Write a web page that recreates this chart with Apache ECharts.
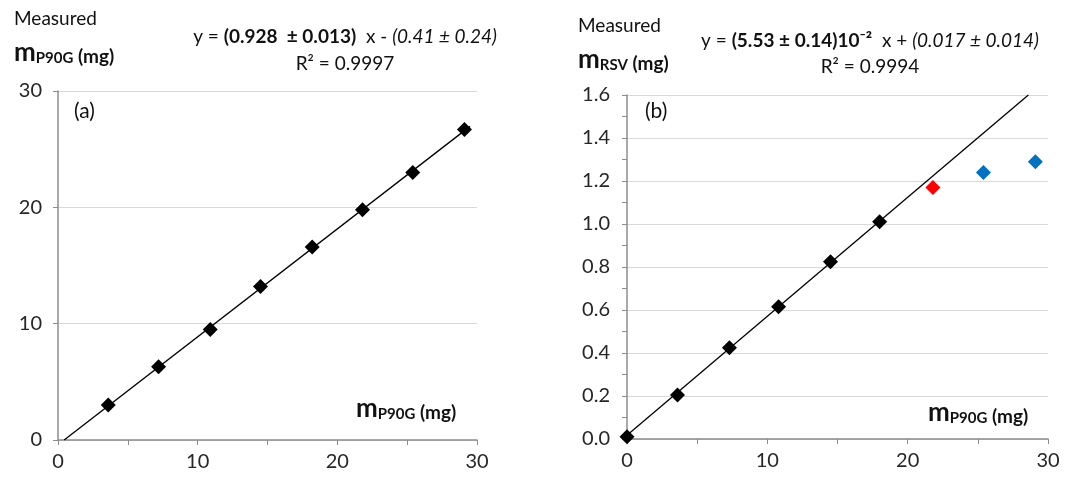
<!DOCTYPE html>
<html>
<head>
<meta charset="utf-8">
<script src="https://cdn.jsdelivr.net/npm/echarts@6/dist/echarts.min.js"></script>
<style>
  html, body { margin: 0; padding: 0; background: #fff; }
  #chart { width: 1069px; height: 477px; }
</style>
</head>
<body>
<div id="chart"></div>
<script>
// panel (a): m_P90G added vs measured
const xA = [3.6, 7.2, 10.9, 14.5, 18.2, 21.8, 25.4, 29.1];
const yA = [3.0, 6.3, 9.5, 13.2, 16.6, 19.8, 23.0, 26.7];
const fitA = [[0.44, 0], [29.5, 26.96]];

// panel (b): m_RSV measured
const xB = [0, 3.6, 7.3, 10.8, 14.5, 18.0];
const yB = [0.01, 0.205, 0.425, 0.615, 0.825, 1.01];
const xBred = [21.8];
const yBred = [1.17];
const xBblue = [25.4, 29.1];
const yBblue = [1.24, 1.29];
const fitB = [[0, 0.017], [28.6, 1.6]];

const zip = (xs, ys) => xs.map((x, i) => [x, ys[i]]);

const FONT = 'Lato, "Open Sans", sans-serif';
const axisGray = '#8c8c8c';
const gridGray = '#d9d9d9';
const labelColor = '#262626';

function xAxisCfg(gridIndex) {
  return {
    type: 'value', gridIndex: gridIndex, min: 0, max: 30, interval: 5,
    axisLine: { lineStyle: { color: axisGray, width: 1.5 } },
    axisTick: { show: true, length: 5, lineStyle: { color: axisGray } },
    axisLabel: {
      color: labelColor, fontSize: 20, fontFamily: FONT, margin: 12,
      formatter: v => (v % 10 === 0 ? String(v) : '')
    },
    splitLine: { show: false }
  };
}

const rich = {
  n: { fontSize: 19, fontFamily: FONT, fill: '#111' },
  b: { fontSize: 19, fontFamily: FONT, fill: '#111', fontWeight: 'bold' },
  i: { fontSize: 19, fontFamily: FONT, fill: '#111', fontStyle: 'italic' },
  p: { fontSize: 21, fontFamily: FONT, fill: '#111' },
  m: { fontSize: 26, fontFamily: FONT, fill: '#111', fontWeight: 'bold', verticalAlign: 'bottom', lineHeight: 28 },
  s: { fontSize: 15, fontFamily: FONT, fill: '#111', fontWeight: 'bold', verticalAlign: 'bottom', lineHeight: 8 },
  u: { fontSize: 19, fontFamily: FONT, fill: '#111', fontWeight: 'bold', verticalAlign: 'bottom', lineHeight: 26 }
};

function txt(x, y, text) {
  return {
    type: 'text', x: x, y: y,
    style: { text: text, rich: rich, align: 'left', verticalAlign: 'top', fontSize: 19, fontFamily: FONT, fill: '#111' }
  };
}
function txtC(cx, y, text) {
  return {
    type: 'text', x: cx, y: y,
    style: { text: text, rich: rich, align: 'center', verticalAlign: 'top', fontSize: 19, fontFamily: FONT, fill: '#111' }
  };
}

const option = {
  backgroundColor: '#fff',
  animation: false,
  grid: [
    { left: 58, right: 592, top: 91, bottom: 37 },
    { left: 627, right: 21, top: 95, bottom: 38 }
  ],
  xAxis: [xAxisCfg(0), xAxisCfg(1)],
  yAxis: [
    {
      type: 'value', gridIndex: 0, min: 0, max: 30, interval: 10,
      axisLine: { show: true, lineStyle: { color: axisGray, width: 1.5 } },
      axisTick: { show: true, length: 5, lineStyle: { color: axisGray } },
      axisLabel: { color: labelColor, fontSize: 20, fontFamily: FONT, margin: 16 },
      splitLine: { lineStyle: { color: gridGray, width: 1.2 } }
    },
    {
      type: 'value', gridIndex: 1, min: 0, max: 1.6, interval: 0.2,
      axisLine: { show: true, lineStyle: { color: axisGray, width: 1.5 } },
      axisTick: { show: true, length: 5, lineStyle: { color: axisGray } },
      minorTick: { show: true, splitNumber: 2, length: 5, lineStyle: { color: axisGray } },
      axisLabel: { color: labelColor, fontSize: 20, fontFamily: FONT, margin: 17, formatter: v => v.toFixed(1) },
      splitLine: { lineStyle: { color: gridGray, width: 1.2 } }
    }
  ],
  series: [
    {
      type: 'line', xAxisIndex: 0, yAxisIndex: 0, data: fitA, symbol: 'none',
      lineStyle: { color: '#000', width: 1.3 }, silent: true
    },
    {
      type: 'scatter', xAxisIndex: 0, yAxisIndex: 0, data: zip(xA, yA),
      symbol: 'diamond', symbolSize: 15, itemStyle: { color: '#000', opacity: 1 }
    },
    {
      type: 'line', xAxisIndex: 1, yAxisIndex: 1, data: fitB, symbol: 'none',
      lineStyle: { color: '#000', width: 1.3 }, silent: true
    },
    {
      type: 'scatter', xAxisIndex: 1, yAxisIndex: 1, data: zip(xB, yB),
      symbol: 'diamond', symbolSize: 15, itemStyle: { color: '#000', opacity: 1 }
    },
    {
      type: 'scatter', xAxisIndex: 1, yAxisIndex: 1, data: zip(xBred, yBred),
      symbol: 'diamond', symbolSize: 15, itemStyle: { color: '#ff0000', opacity: 1 }
    },
    {
      type: 'scatter', xAxisIndex: 1, yAxisIndex: 1, data: zip(xBblue, yBblue),
      symbol: 'diamond', symbolSize: 15, itemStyle: { color: '#0070c0', opacity: 1 }
    }
  ],
  graphic: [
    txt(14, 9, '{n|Measured}'),
    txt(14, 38, '{m|m}{s|P90G}{u| (mg)}'),
    txtC(345, 27, '{n|y = }{b|(0.928  ± 0.013)}{n|  x - }{i|(0.41 ± 0.24)}'),
    txtC(345, 54, '{n|R² = 0.9997}'),
    txt(74, 101, '{p|(a)}'),
    txt(356, 394, '{m|m}{s|P90G}{u| (mg)}'),

    txt(578, 16, '{n|Measured}'),
    txt(578, 45, '{m|m}{s|RSV}{u| (mg)}'),
    txtC(870, 31, '{n|y = }{b|(5.53 ± 0.14)10⁻²}{n|  x + }{i|(0.017 ± 0.014)}'),
    txtC(870, 57, '{n|R² = 0.9994}'),
    txt(645, 101, '{p|(b)}'),
    txt(928, 398, '{m|m}{s|P90G}{u| (mg)}')
  ]
};

const chart = echarts.init(document.getElementById('chart'), null, { renderer: 'canvas' });
chart.setOption(option);
</script>
</body>
</html>
